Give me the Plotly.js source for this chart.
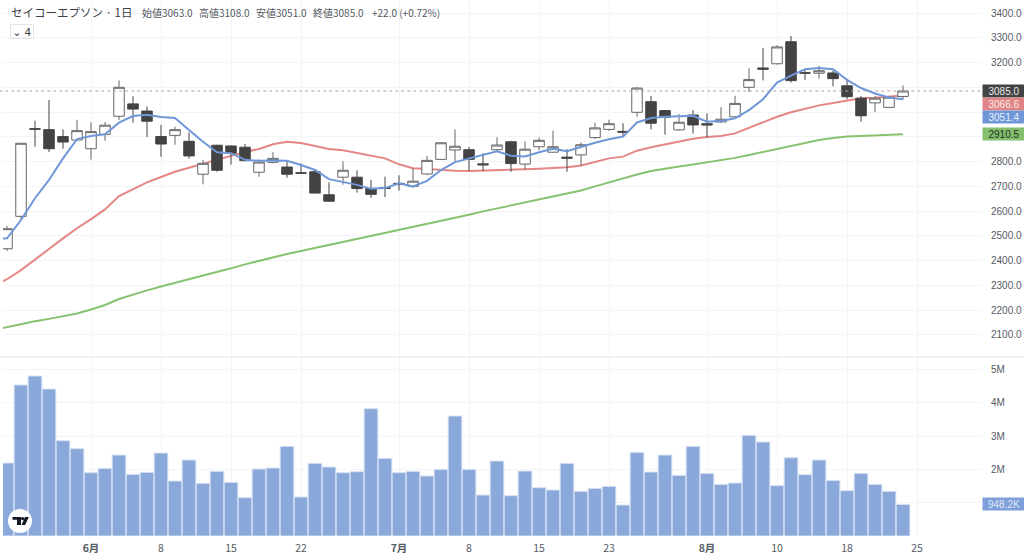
<!DOCTYPE html>
<html>
<head>
<meta charset="utf-8">
<script src="https://cdn.plot.ly/plotly-3.0.1.min.js"></script>
<style>
html, body { margin: 0; padding: 0; background: #fff; }
#chart { width: 1024px; height: 554px; }
</style>
</head>
<body>
<div id="chart"></div>
<script>
// daily candles
const opens = [2448,2579,2933,2929,2901,2887,2852,2910,2983,3033,3004,2901,2906,2882,2749,2866,2863,2858,2757,2797,2778,2755,2759,2666,2737,2737,2691,2695,2712,2700,2750,2809,2847,2848,2791,2848,2880,2790,2860,2838,2818,2827,2897,2930,2922,2999,3042,3006,2928,2988,2953,2960,2981,3100,3178,3195,3284,3159,3157,3158,3106,3056,3037,3019,3063];
const highs = [2540,2875,2965,3049,2930,2969,2959,2960,3128,3064,3022,2948,2941,2918,2807,2868,2865,2871,2809,2838,2804,2793,2770,2716,2801,2765,2726,2739,2745,2773,2823,2878,2930,2859,2834,2899,2884,2882,2897,2925,2850,2878,2957,2969,2955,3101,3065,3008,2992,3008,2995,3020,3066,3177,3259,3270,3307,3175,3186,3167,3130,3065,3066,3062,3108];
const lows = [2439,2564,2860,2839,2852,2885,2808,2884,2968,2957,2899,2819,2868,2812,2708,2759,2788,2800,2739,2793,2735,2751,2671,2638,2707,2675,2654,2657,2683,2693,2746,2807,2800,2762,2762,2840,2759,2769,2847,2836,2759,2783,2891,2924,2901,2981,2930,2909,2924,2913,2898,2957,2979,3081,3128,3191,3119,3130,3135,3104,3052,2961,2999,3019,3051];
const closes = [2529,2874,2931,2852,2879,2925,2921,2947,3100,3012,2963,2871,2929,2823,2793,2765,2834,2804,2798,2813,2749,2753,2673,2640,2765,2691,2668,2692,2709,2721,2805,2876,2862,2809,2787,2867,2792,2850,2886,2860,2814,2868,2936,2953,2919,3097,2955,2979,2959,2948,2948,2971,3035,3131,3173,3263,3127,3157,3167,3135,3062,2985,3056,3060,3085];

// moving averages, first value is the day just left of the visible edge
const maBlue = [2488,2490,2564,2652,2726,2813,2891,2903,2910,2957,2984,2989,2980,2976,2928,2880,2838,2834,2807,2803,2804,2803,2786,2766,2729,2719,2706,2690,2693,2712,2700,2722,2766,2798,2813,2827,2842,2824,2821,2838,2852,2842,2860,2876,2890,2901,2958,2976,2981,2983,2985,2961,2964,2975,3008,3052,3119,3147,3173,3178,3173,3130,3097,3075,3059,3051.4];
const maRed = [2298,2325,2362,2406,2447,2490,2531,2568,2607,2661,2690,2716,2738,2759,2775,2790,2807,2823,2839,2851,2870,2880,2875,2863,2851,2846,2835,2825,2813,2789,2773,2770,2766,2763,2762,2763,2767,2766,2769,2771,2774,2777,2784,2797,2813,2820,2844,2858,2870,2880,2892,2899,2903,2914,2937,2961,2981,2999,3014,3027,3037,3048,3056,3058,3061,3066.6];
const maGreen = [2120,2132,2142,2155,2165,2175,2187,2203,2221,2245,2264,2280,2296,2310,2324,2340,2354,2369,2385,2399,2415,2427,2439,2451,2463,2475,2488,2500,2512,2524,2538,2550,2560,2572,2585,2599,2611,2623,2635,2645,2657,2669,2683,2700,2716,2734,2748,2762,2772,2780,2788,2796,2804,2815,2827,2839,2851,2863,2875,2887,2895,2901,2903,2905,2907,2910.5];

const volumes = [2.19,4.53,4.80,4.41,2.86,2.62,1.90,2.03,2.43,1.85,1.91,2.49,1.65,2.28,1.58,1.94,1.61,1.15,2.01,2.04,2.69,1.17,2.18,2.07,1.90,1.93,3.82,2.33,1.90,1.94,1.80,2.00,3.60,2.00,1.23,2.25,1.21,1.95,1.45,1.38,2.18,1.34,1.43,1.49,0.93,2.51,1.92,2.43,1.82,2.69,1.88,1.55,1.59,3.02,2.82,1.51,2.35,1.84,2.28,1.67,1.36,1.88,1.55,1.34,0.9482];

const tickIdx = [6,11,16,21,28,33,38,43,50,55,60,65];
const tickNames = ['<b>6月</b>','8','15','22','<b>7月</b>','8','15','23','<b>8月</b>','10','18','25'];
const priceTicks = [2100,2200,2300,2400,2500,2600,2700,2800,2900,3000,3100,3200,3300,3400];
// labels under the price tags stay blank, the tags cover them
const priceNames = ['2100.0','2200.0','2300.0','2400.0','2500.0','2600.0','2700.0','2800.0','','','','3200.0','3300.0','3400.0'];
const volTicks = [1,2,3,4,5];
const volNames = ['','2M','3M','4M','5M'];

const lastPrice = 3085;
const lastVolume = 0.9482;
const headName = 'セイコーエプソン · 1日';
const ohlcText = ['始値3063.0','高値3108.0','安値3051.0','終値3085.0','+22.0 (+0.72%)'];
const ohlcPx = [140,197,254,311,370];

const days = opens.map((_, i) => i);
const maDays = maBlue.map((_, i) => i - 1);
const PLOT_W = 978, PLOT_H = 536, PLOT_L = 3;
const px = x => (x - PLOT_L) / PLOT_W;
const py = y => (PLOT_H - y) / PLOT_H;

const GRID = '#f3f4f6';
const TEXT = '#555a63';
const SANS = '"Liberation Sans", sans-serif';
const CJK = '"Noto Sans CJK JP", "Noto Sans", sans-serif';
const priceRange = [2011, 3452.5];

const traces = [
    { type: 'bar', x: days, y: volumes, xaxis: 'x', yaxis: 'y2',
      marker: { color: '#8aa9da', line: { color: '#d8e2f4', width: 1 } } },
    { type: 'scatter', mode: 'lines', x: maDays, y: maGreen, xaxis: 'x2', yaxis: 'y',
      line: { color: '#86c26f', width: 2 } },
    { type: 'scatter', mode: 'lines', x: maDays, y: maRed, xaxis: 'x2', yaxis: 'y',
      line: { color: '#e58686', width: 2 } },
    { type: 'candlestick', x: days, open: opens, high: highs, low: lows, close: closes,
      xaxis: 'x2', yaxis: 'y3', whiskerwidth: 0,
      increasing: { line: { color: '#666', width: 1 }, fillcolor: '#fff' },
      decreasing: { line: { color: '#434343', width: 1 }, fillcolor: '#434343' } },
    { type: 'scatter', mode: 'lines', x: maDays, y: maBlue, xaxis: 'x2', yaxis: 'y3',
      line: { color: '#6f97d8', width: 2 } }
];

function tag(text, y, yref, yshift, bg, color) {
    return { text: text, xref: 'paper', x: 1, xanchor: 'left', xshift: 1, yref: yref, y: y, yanchor: 'middle', yshift: yshift,
             showarrow: false, bgcolor: bg, width: 42, height: 12, borderpad: 0, align: 'center',
             font: { family: SANS, size: 10, color: color } };
}

const annotations = [
    { text: headName, xref: 'paper', yref: 'paper', x: px(8.5), y: py(12), xanchor: 'left', yanchor: 'middle',
      showarrow: false, font: { family: CJK, size: 11.5, color: '#3d4046' } },
    { text: '⌄ 4', xref: 'paper', yref: 'paper', x: px(10), y: py(31), xanchor: 'left', yanchor: 'middle',
      showarrow: false, width: 22, height: 13, bordercolor: '#e3e5ea', borderwidth: 1, borderpad: 0,
      font: { family: '"DejaVu Sans", sans-serif', size: 10.5, color: '#444' } },
    tag('3085.0', lastPrice, 'y', 0, '#434343', '#e8e8e8'),
    tag('3066.6', maRed[65], 'y', -8.5, '#e08585', '#fbeaea'),
    tag('3051.4', maBlue[65], 'y', -17.5, '#6f97d8', '#eaf0fa'),
    tag('2910.5', maGreen[65], 'y', 0, '#83bf6e', '#23331d'),
    tag('948.2K', lastVolume, 'y2', 0, '#7f9fd8', '#dfe8f7')
];
ohlcText.forEach((t, i) => annotations.push({
    text: t, xref: 'paper', yref: 'paper', x: px(ohlcPx[i]), y: py(12.5), xanchor: 'left', yanchor: 'middle',
    showarrow: false, font: { family: CJK, size: 10, color: TEXT }
}));

const shapes = [
    // pane divider
    { type: 'line', xref: 'paper', yref: 'paper', x0: -0.01, x1: 1.05, y0: py(357), y1: py(357),
      line: { color: '#e3e5ea', width: 1 } },
    // last price
    { type: 'line', xref: 'paper', yref: 'y', x0: -0.01, x1: 1, y0: lastPrice, y1: lastPrice,
      line: { color: '#a6a6a6', width: 1, dash: 'dot' } },
    // logo badge
    { type: 'circle', layer: 'above', xref: 'paper', yref: 'paper', xsizemode: 'pixel', ysizemode: 'pixel',
      xanchor: px(20), yanchor: py(521), x0: -12, x1: 12, y0: -12, y1: 12,
      fillcolor: '#fff', line: { width: 0 } },
    { type: 'path', layer: 'above', xref: 'paper', yref: 'paper', xsizemode: 'pixel', ysizemode: 'pixel',
      xanchor: px(20), yanchor: py(521), fillcolor: '#131722', line: { width: 0 },
      path: 'M-7.5,4 H1 V-4 H-3 V1.2 H-7.5 Z M1.5,-4 L5,4 H8.8 L5.2,-4 Z' },
    { type: 'circle', layer: 'above', xref: 'paper', yref: 'paper', xsizemode: 'pixel', ysizemode: 'pixel',
      xanchor: px(22.6), yanchor: py(518.6), x0: -1.6, x1: 1.6, y0: -1.6, y1: 1.6,
      fillcolor: '#131722', line: { width: 0 } }
];

const xBase = {
    range: [-0.2857, 69.57], tickmode: 'array', tickvals: tickIdx, showgrid: true, gridcolor: GRID, gridwidth: 1,
    zeroline: false, showline: false, ticks: '', rangeslider: { visible: false }, fixedrange: true
};

const layout = {
    width: 1024, height: 554, autosize: false,
    margin: { l: PLOT_L, r: 43, t: 0, b: 18, pad: 0 },
    paper_bgcolor: '#fff', plot_bgcolor: '#fff',
    showlegend: false, bargap: 0.02, boxgap: 0.25, boxgroupgap: 0, hovermode: false,
    xaxis: Object.assign({}, xBase, { anchor: 'y2', ticktext: tickNames, ticklabelstandoff: 4,
        tickfont: { family: CJK, size: 10.5, color: TEXT } }),
    xaxis2: Object.assign({}, xBase, { anchor: 'y', showticklabels: false }),
    yaxis: { domain: [py(357), 1], range: priceRange, side: 'right', anchor: 'x2', tickmode: 'array', tickvals: priceTicks, ticktext: priceNames,
        gridcolor: GRID, zeroline: false, showline: false, ticks: '', ticklabelstandoff: 9,
        tickfont: { family: SANS, size: 10, color: TEXT } },
    yaxis2: { domain: [0, py(357)], range: [0, 5.37], side: 'right', anchor: 'x', tickmode: 'array', tickvals: volTicks, ticktext: volNames,
        gridcolor: GRID, zeroline: false, showline: false, ticks: '', ticklabelstandoff: 9,
        tickfont: { family: SANS, size: 10, color: TEXT } },
    yaxis3: { overlaying: 'y', range: priceRange, side: 'right', anchor: 'x2', showgrid: false, showticklabels: false,
        zeroline: false, ticks: '' },
    annotations: annotations,
    shapes: shapes
};

Plotly.newPlot('chart', traces, layout, { displayModeBar: false, staticPlot: true });
</script>
</body>
</html>
